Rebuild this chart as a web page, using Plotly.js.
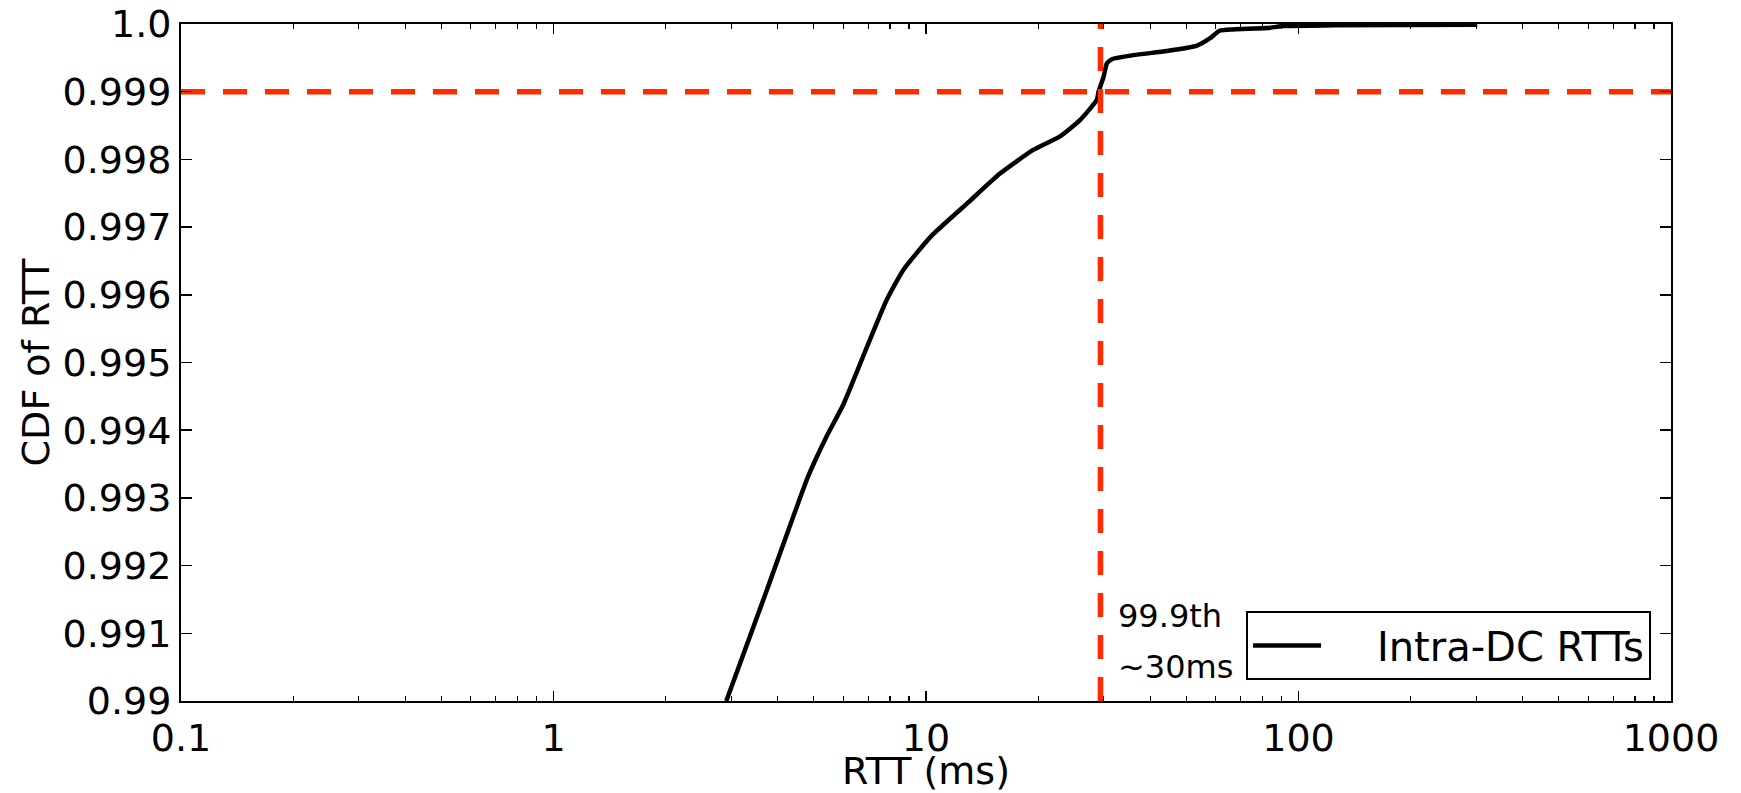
<!DOCTYPE html>
<html>
<head>
<meta charset="utf-8">
<script src="https://cdn.plot.ly/plotly-3.0.1.min.js"></script>
<style>
  html, body { margin: 0; padding: 0; background: #ffffff; }
  #chart { width: 1741px; height: 793px; }
</style>
</head>
<body>
<div id="chart"></div>
<script>
// RTT CDF curve (ms, cumulative fraction)
const rttMs = [2.91, 3.74, 4.82, 5.4, 6.0, 6.85, 7.85, 8.7, 10.3, 12.9, 15.8, 19.4, 22.9, 25.9, 28.76, 29.05, 29.97, 30.6, 31.55, 36.06, 44.33, 53.4, 57.9, 61.4, 66.9, 82.2, 91.2, 124, 302];
const cdf   = [0.99, 0.99164, 0.99331, 0.99390, 0.99438, 0.99515, 0.99593, 0.99637, 0.99686, 0.99735, 0.99779, 0.99814, 0.99834, 0.99858, 0.99888, 0.9990, 0.99922, 0.99942, 0.99948, 0.99954, 0.99960, 0.99968, 0.99979, 0.99990, 0.99992, 0.99994, 0.99997, 0.99998, 0.99999];

// reference markers
const pctLevel = 0.999;     // 99.9th percentile
const pctRtt = 29.4;        // ~30 ms
const xRange = [0.1, 1000];
const yRange = [0.99, 1.0];

// tick labels
const xTickVals = [0.1, 1, 10, 100, 1000];
const xTickText = ['0.1', '1', '10', '100', '1000'];
const yTickVals = [0.99, 0.991, 0.992, 0.993, 0.994, 0.995, 0.996, 0.997, 0.998, 0.999, 1.0];
const yTickText = ['0.99', '0.991', '0.992', '0.993', '0.994', '0.995', '0.996', '0.997', '0.998', '0.999', '1.0'];

const xMinorVals = [];
[0.1, 1, 10, 100].forEach(d => { for (let k = 2; k <= 9; k++) xMinorVals.push(+(d * k).toPrecision(3)); });

const RED = '#ff2a00';
const FONT = 'DejaVu Sans, Verdana, sans-serif';
const NB = '\u00a0';

const traces = [
  {
    x: rttMs, y: cdf, type: 'scatter', mode: 'lines',
    name: NB + NB + NB + NB + 'Intra-DC RTTs',
    line: { color: '#000000', width: 4.5, shape: 'spline', smoothing: 0.5 },
    hoverinfo: 'skip'
  },
  {
    x: xRange, y: [pctLevel, pctLevel], type: 'scatter', mode: 'lines',
    showlegend: false, hoverinfo: 'skip',
    line: { color: RED, width: 5.5, dash: '24px,18px' }
  },
  {
    x: [pctRtt, pctRtt], y: yRange, type: 'scatter', mode: 'lines',
    showlegend: false, hoverinfo: 'skip',
    line: { color: RED, width: 5.5, dash: '24px,18px' }
  }
];

const layout = {
  width: 1741, height: 793,
  paper_bgcolor: '#ffffff', plot_bgcolor: '#ffffff',
  margin: { l: 181, r: 70, t: 24, b: 92, pad: 0 },
  font: { family: FONT, size: 38, color: '#000000' },
  showlegend: true,
  legend: {
    x: 0.9866, y: 0.031, xanchor: 'right', yanchor: 'bottom',
    bgcolor: '#ffffff', bordercolor: '#000000', borderwidth: 2,
    font: { family: FONT, size: 40, color: '#000000' },
    itemwidth: 68
  },
  xaxis: {
    type: 'log', range: [-1, 3], autorange: false,
    tickvals: xTickVals, ticktext: xTickText,
    ticks: 'inside', ticklen: 10, tickwidth: 1.5, tickcolor: '#000000',
    showline: true, linecolor: '#000000', linewidth: 2, mirror: 'ticks',
    showgrid: false, zeroline: false,
    tickfont: { family: FONT, size: 38 },
    ticklabelstandoff: 2,
    minor: { tickvals: xMinorVals, ticks: 'inside', ticklen: 5, tickwidth: 1.2, tickcolor: '#000000', showgrid: false },
    title: { text: 'RTT (ms)', font: { family: FONT, size: 38 }, standoff: 3 }
  },
  yaxis: {
    range: yRange, autorange: false,
    tickvals: yTickVals, ticktext: yTickText,
    ticks: 'inside', ticklen: 11, tickwidth: 1.5, tickcolor: '#000000',
    showline: true, linecolor: '#000000', linewidth: 2, mirror: 'ticks',
    showgrid: false, zeroline: false,
    tickfont: { family: FONT, size: 38 },
    ticklabelstandoff: 0,
    title: { text: 'CDF of RTT', font: { family: FONT, size: 38 }, standoff: 1 }
  },
  annotations: [
    {
      xref: 'paper', yref: 'paper',
      x: (1116 - 181) / 1489.6, y: (701 - 616) / 677,
      xanchor: 'left', yanchor: 'middle', showarrow: false,
      text: '99.9th', font: { family: FONT, size: 32, color: '#000000' }
    },
    {
      xref: 'paper', yref: 'paper',
      x: (1116 - 181) / 1489.6, y: (701 - 667) / 677,
      xanchor: 'left', yanchor: 'middle', showarrow: false,
      text: '~30ms', font: { family: FONT, size: 32, color: '#000000' }
    }
  ]
};

Plotly.newPlot('chart', traces, layout, { staticPlot: true, displayModeBar: false });
</script>
</body>
</html>
